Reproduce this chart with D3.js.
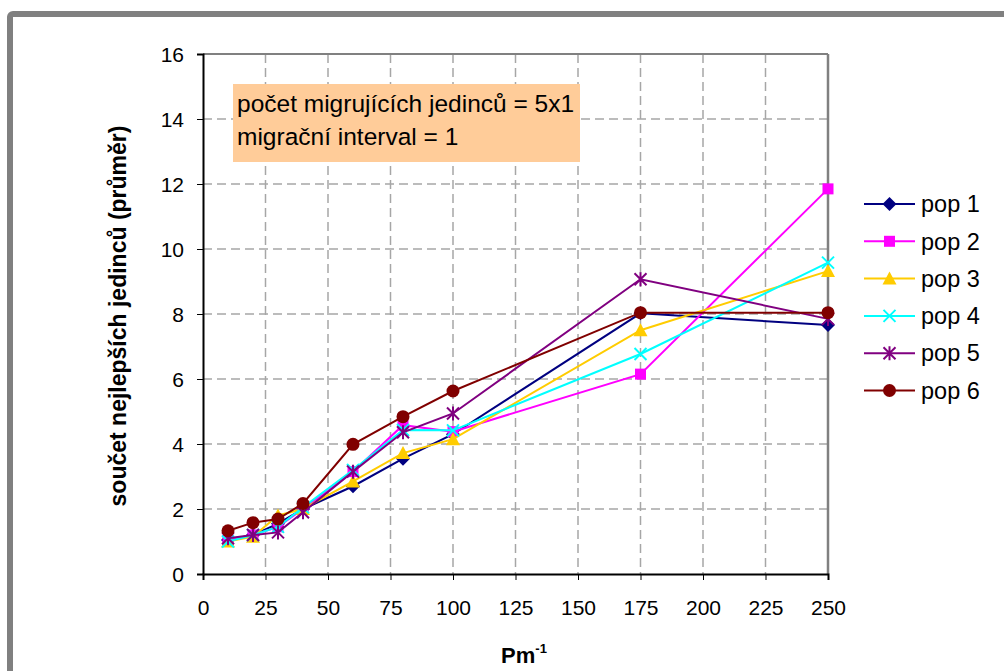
<!DOCTYPE html>
<html>
<head>
<meta charset="utf-8">
<script src="https://cdn.jsdelivr.net/npm/d3@7"></script>
<style>
  html, body { margin: 0; padding: 0; background: #fff; }
  svg { display: block; font-family: "Liberation Sans", Arial, sans-serif; }
</style>
</head>
<body>
<svg id="chart" width="1004" height="671"></svg>
<script>
// Pm^-1 values on the x axis
const pmValues = [10, 20, 30, 40, 60, 80, 100, 175, 250];

// mean sum of the best individuals, per population
const pop1 = [1.05, 1.20, 1.55, 2.00, 2.70, 3.55, 4.30, 8.02, 7.66];
const pop2 = [1.05, 1.20, 1.45, 2.00, 3.15, 4.58, 4.38, 6.15, 11.85];
const pop3 = [1.00, 1.15, 1.80, 2.00, 2.85, 3.72, 4.15, 7.50, 9.32];
const pop4 = [1.00, 1.20, 1.45, 2.05, 3.20, 4.43, 4.42, 6.77, 9.58];
const pop5 = [1.10, 1.20, 1.28, 1.90, 3.15, 4.36, 4.94, 9.07, 7.85];
const pop6 = [1.33, 1.58, 1.69, 2.17, 3.99, 4.84, 5.63, 8.04, 8.04];

const seriesNames = ["pop 1", "pop 2", "pop 3", "pop 4", "pop 5", "pop 6"];
const seriesValues = [pop1, pop2, pop3, pop4, pop5, pop6];
const seriesColors = ["#000080", "#FF00FF", "#FFCC00", "#00FFFF", "#800080", "#800000"];
const seriesMarkers = ["diamond", "square", "triangle", "cross", "asterisk", "circle"];

const xTicks = [0, 25, 50, 75, 100, 125, 150, 175, 200, 225, 250];
const yTicks = [0, 2, 4, 6, 8, 10, 12, 14, 16];

const noteLines = ["počet migrujících jedinců = 5x1", "migrační interval = 1"];

const svg = d3.select("#chart");

// outer chart frame
svg.append("rect")
  .attr("x", 10).attr("y", 14)
  .attr("width", 1010).attr("height", 680)
  .attr("rx", 3)
  .attr("fill", "#fff")
  .attr("stroke", "#808080")
  .attr("stroke-width", 6);

const plot = { left: 203, right: 828, top: 54, bottom: 574 };

const x = d3.scaleLinear().domain([0, 250]).range([plot.left, plot.right]);
const y = d3.scaleLinear().domain([0, 16]).range([plot.bottom, plot.top]);

// dashed gridlines
const grid = svg.append("g");
grid.selectAll("line.h")
  .data(yTicks.filter(d => d > 0 && d < 16))
  .join("line")
  .attr("x1", plot.left).attr("x2", plot.right)
  .attr("y1", d => y(d)).attr("y2", d => y(d))
  .attr("stroke", "#a6a6a6").attr("stroke-width", 1.5)
  .attr("stroke-dasharray", "9,5");
grid.selectAll("line.v")
  .data(xTicks.filter(d => d > 0 && d < 250))
  .join("line")
  .attr("x1", d => x(d)).attr("x2", d => x(d))
  .attr("y1", plot.top).attr("y2", plot.bottom)
  .attr("stroke", "#a6a6a6").attr("stroke-width", 1.5)
  .attr("stroke-dasharray", "9,5");

// plot area border (top and right)
svg.append("line")
  .attr("x1", plot.left).attr("x2", plot.right)
  .attr("y1", y(16)).attr("y2", y(16))
  .attr("stroke", "#808080").attr("stroke-width", 2);
svg.append("line")
  .attr("x1", x(250)).attr("x2", x(250))
  .attr("y1", plot.top).attr("y2", plot.bottom)
  .attr("stroke", "#808080").attr("stroke-width", 2.5);

// annotation box
const note = svg.append("g");
note.append("rect")
  .attr("x", 233).attr("y", 84)
  .attr("width", 347).attr("height", 78)
  .attr("fill", "#FFCC99");
note.selectAll("text")
  .data(noteLines)
  .join("text")
  .attr("x", 237)
  .attr("y", (d, i) => 112 + i * 33)
  .attr("font-size", 24.5)
  .attr("fill", "#000")
  .text(d => d);

// axes
const xAxis = d3.axisBottom(x).tickValues(xTicks).tickSize(6).tickPadding(20);
const yAxis = d3.axisLeft(y).tickValues(yTicks).tickSize(6).tickPadding(13);

const gx = svg.append("g")
  .attr("transform", `translate(0,${plot.bottom})`)
  .call(xAxis);
const gy = svg.append("g")
  .attr("transform", `translate(${plot.left},0)`)
  .call(yAxis);

[gx, gy].forEach(g => {
  g.select(".domain").attr("stroke", "#000").attr("stroke-width", 2);
  g.selectAll(".tick line").attr("stroke", "#000").attr("stroke-width", 1);
  g.selectAll(".tick text")
    .attr("font-family", "Liberation Sans, Arial, sans-serif")
    .attr("font-size", 21)
    .attr("fill", "#000");
});
gx.selectAll(".tick text").attr("dy", "0.71em");
gy.selectAll(".tick text").attr("dy", "0.35em");

// axis titles
svg.append("text")
  .attr("transform", `translate(126,${(plot.top + plot.bottom) / 2 + 2}) rotate(-90)`)
  .attr("text-anchor", "middle")
  .attr("font-size", 23)
  .attr("font-weight", "bold")
  .text("součet nejlepších jedinců (průměr)");

const xt = svg.append("text")
  .attr("x", 524).attr("y", 663)
  .attr("text-anchor", "middle")
  .attr("font-size", 22)
  .attr("font-weight", "bold");
xt.append("tspan").text("Pm");
xt.append("tspan").attr("dy", -10).attr("font-size", 13).text("-1");

// marker drawing
function drawMarker(g, type, color, cx, cy) {
  switch (type) {
    case "diamond":
      g.append("path")
        .attr("d", `M${cx},${cy - 7}L${cx + 7},${cy}L${cx},${cy + 7}L${cx - 7},${cy}Z`)
        .attr("fill", color);
      break;
    case "square":
      g.append("rect")
        .attr("x", cx - 5.5).attr("y", cy - 5.5)
        .attr("width", 11).attr("height", 11)
        .attr("fill", color);
      break;
    case "triangle":
      g.append("path")
        .attr("d", `M${cx},${cy - 7}L${cx + 7},${cy + 6}L${cx - 7},${cy + 6}Z`)
        .attr("fill", color);
      break;
    case "cross":
      g.append("path")
        .attr("d", `M${cx - 6},${cy - 6}L${cx + 6},${cy + 6}M${cx - 6},${cy + 6}L${cx + 6},${cy - 6}`)
        .attr("stroke", color).attr("stroke-width", 2).attr("fill", "none");
      break;
    case "asterisk":
      g.append("path")
        .attr("d", `M${cx - 6},${cy - 6}L${cx + 6},${cy + 6}M${cx - 6},${cy + 6}L${cx + 6},${cy - 6}M${cx},${cy - 7}L${cx},${cy + 7}`)
        .attr("stroke", color).attr("stroke-width", 2).attr("fill", "none");
      break;
    case "circle":
      g.append("circle")
        .attr("cx", cx).attr("cy", cy).attr("r", 6.5)
        .attr("fill", color);
      break;
  }
}

// series lines and markers
const line = d3.line().x(d => x(d[0])).y(d => y(d[1]));
seriesValues.forEach((vals, i) => {
  const pts = pmValues.map((p, j) => [p, vals[j]]);
  const g = svg.append("g");
  g.append("path")
    .datum(pts)
    .attr("d", line)
    .attr("fill", "none")
    .attr("stroke", seriesColors[i])
    .attr("stroke-width", 2);
  pts.forEach(p => drawMarker(g, seriesMarkers[i], seriesColors[i], x(p[0]), y(p[1])));
});

// legend
const legend = svg.append("g");
seriesNames.forEach((name, i) => {
  const ly = 204 + i * 37.3;
  const g = legend.append("g");
  g.append("line")
    .attr("x1", 864).attr("x2", 915)
    .attr("y1", ly).attr("y2", ly)
    .attr("stroke", seriesColors[i]).attr("stroke-width", 2);
  drawMarker(g, seriesMarkers[i], seriesColors[i], 889.5, ly);
  g.append("text")
    .attr("x", 921).attr("y", ly)
    .attr("dy", "0.35em")
    .attr("font-size", 23.5)
    .text(name);
});
</script>
</body>
</html>
